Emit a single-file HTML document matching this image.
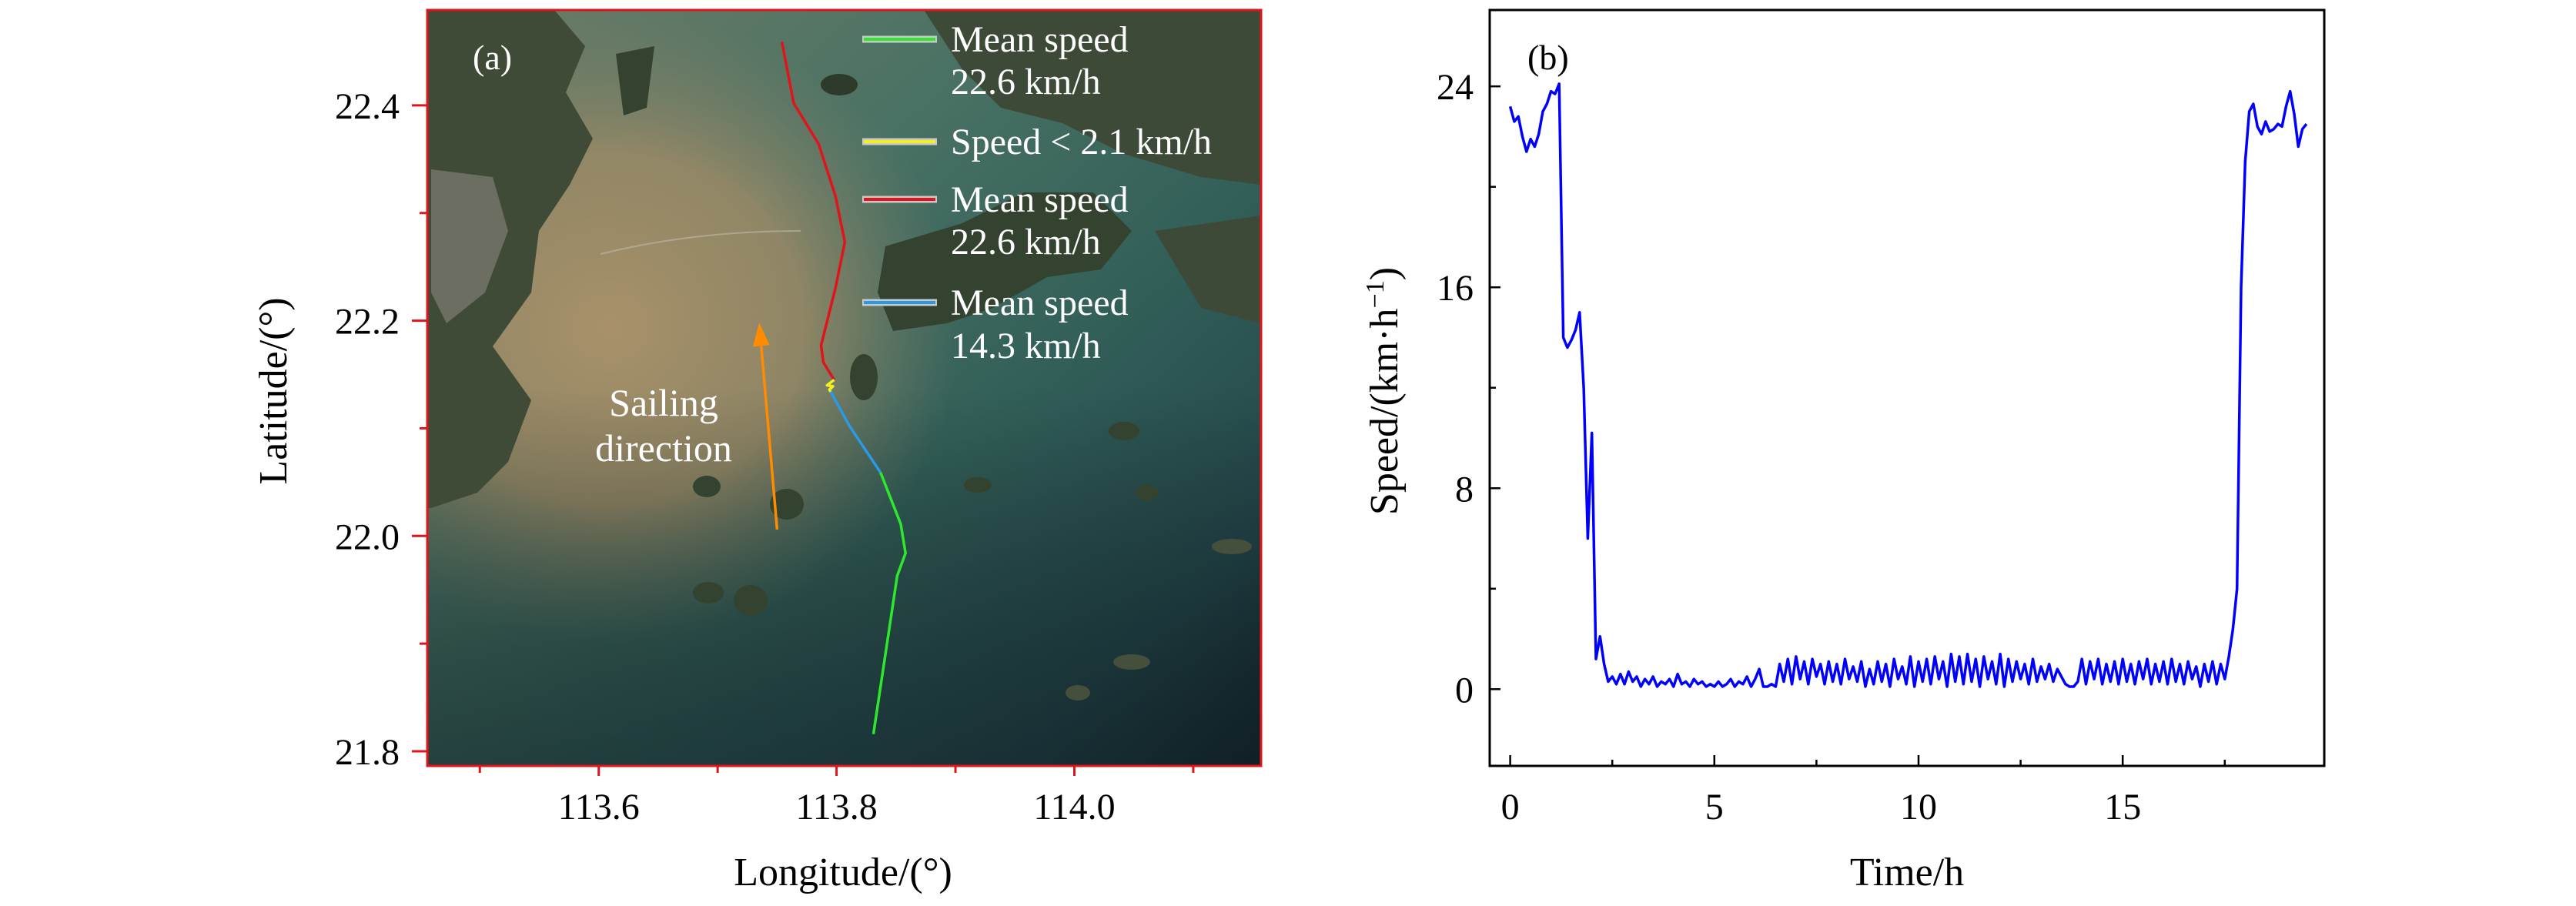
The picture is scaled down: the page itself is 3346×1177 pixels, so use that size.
<!DOCTYPE html>
<html><head><meta charset="utf-8"><style>
html,body{margin:0;padding:0;background:#fff}
svg{display:block;font-family:"Liberation Serif","DejaVu Serif",serif}
svg text{font-family:"Liberation Serif","DejaVu Serif",serif;fill:#000}
</style></head><body>
<svg id="fig" width="3346" height="1177" viewBox="0 0 3346 1177" xmlns="http://www.w3.org/2000/svg" font-family="Liberation Serif, serif">
<defs>
<clipPath id="mapclip"><rect x="555" y="13" width="1083" height="982"/></clipPath>
<linearGradient id="sea" x1="0" y1="0" x2="1" y2="1">
<stop offset="0" stop-color="#6f7c66"/><stop offset="0.35" stop-color="#4a7264"/><stop offset="0.6" stop-color="#336059"/><stop offset="0.85" stop-color="#23464a"/><stop offset="1" stop-color="#14252b"/>
</linearGradient>
<radialGradient id="mud" cx="0.22" cy="0.42" r="0.42">
<stop offset="0" stop-color="#a8916a" stop-opacity="1"/><stop offset="0.55" stop-color="#9c8a66" stop-opacity="0.85"/><stop offset="1" stop-color="#7a7e66" stop-opacity="0"/>
</radialGradient>
<linearGradient id="dark" x1="0" y1="0" x2="0" y2="1">
<stop offset="0.5" stop-color="#000" stop-opacity="0"/><stop offset="1" stop-color="#0d1a20" stop-opacity="0.5"/>
</linearGradient>
</defs>

<g id="panel-a">
<g clip-path="url(#mapclip)">
<rect x="555" y="13" width="1083" height="982" fill="url(#sea)"/>
<rect x="555" y="13" width="1083" height="982" fill="url(#mud)"/>
<rect x="555" y="13" width="1083" height="982" fill="url(#dark)"/>
<path d="M555 13 L720 13 L760 60 L735 120 L770 180 L740 240 L700 300 L690 380 L640 450 L690 520 L660 600 L620 640 L560 660 L555 660 Z" fill="#3f4b36"/>
<path d="M560 220 L640 230 L660 300 L630 380 L580 420 L560 380 Z" fill="#6b6e60"/>
<path d="M800 70 L850 60 L840 140 L810 150 Z" fill="#34422f"/>
<path d="M1200 13 L1638 13 L1638 240 L1560 230 L1460 200 L1380 160 L1300 140 L1250 90 Z" fill="#3d4a37"/>
<path d="M1150 320 L1250 290 L1330 250 L1420 250 L1470 300 L1430 350 L1360 360 L1290 400 L1230 420 L1160 430 L1140 380 Z" fill="#34432f"/>
<path d="M1500 300 L1638 280 L1638 420 L1560 400 Z" fill="#3d4a37"/>
<ellipse cx="1090" cy="110" rx="24" ry="14" fill="#2e3b2a"/>
<ellipse cx="1122" cy="490" rx="18" ry="30" fill="#34432f"/>
<ellipse cx="918" cy="632" rx="18" ry="14" fill="#34432f"/>
<ellipse cx="1022" cy="655" rx="22" ry="20" fill="#34432f"/>
<ellipse cx="920" cy="770" rx="20" ry="14" fill="#34432f"/>
<ellipse cx="975" cy="780" rx="22" ry="20" fill="#34432f"/>
<ellipse cx="1460" cy="560" rx="20" ry="12" fill="#34432f"/>
<ellipse cx="1270" cy="630" rx="18" ry="10" fill="#34432f"/>
<ellipse cx="1490" cy="640" rx="16" ry="10" fill="#34432f"/>
<ellipse cx="1600" cy="710" rx="26" ry="10" fill="#44503c"/>
<ellipse cx="1470" cy="860" rx="24" ry="10" fill="#44503c"/>
<ellipse cx="1400" cy="900" rx="16" ry="10" fill="#44503c"/>
<path d="M780 330 Q900 300 1040 300" stroke="#b8b3a0" stroke-width="2" fill="none" opacity="0.7"/>
</g>
<g id="track"></g>
<g id="arrow"></g>
<rect x="555" y="13" width="1083" height="982" fill="none" stroke="#e0141b" stroke-width="3"/>
<text x="614" y="90" font-size="46" style="fill:#fff">(a)</text>
<text x="862" y="540" font-size="50" text-anchor="middle" style="fill:#fff"><tspan x="862">Sailing</tspan><tspan x="862" dy="59">direction</tspan></text>
<g id="legend-a">
<g>
<line x1="1120" y1="51" x2="1217" y2="51" stroke="#c8c8c8" stroke-width="9"/><line x1="1122" y1="51" x2="1215" y2="51" stroke="#2ee82e" stroke-width="4"/>
<text x="1235" y="67" font-size="48" style="fill:#fff">Mean speed</text><text x="1235" y="122" font-size="48" style="fill:#fff">22.6 km/h</text></g>
<g>
<line x1="1120" y1="184" x2="1217" y2="184" stroke="#c8c8c8" stroke-width="9"/><line x1="1122" y1="184" x2="1215" y2="184" stroke="#f4f020" stroke-width="4"/>
<text x="1235" y="200" font-size="48" style="fill:#fff">Speed &lt; 2.1 km/h</text></g>
<g>
<line x1="1120" y1="259" x2="1217" y2="259" stroke="#c8c8c8" stroke-width="9"/><line x1="1122" y1="259" x2="1215" y2="259" stroke="#e0141b" stroke-width="4"/>
<text x="1235" y="275" font-size="48" style="fill:#fff">Mean speed</text><text x="1235" y="330" font-size="48" style="fill:#fff">22.6 km/h</text></g>
<g>
<line x1="1120" y1="393" x2="1217" y2="393" stroke="#c8c8c8" stroke-width="9"/><line x1="1122" y1="393" x2="1215" y2="393" stroke="#2b9ae6" stroke-width="4"/>
<text x="1235" y="409" font-size="48" style="fill:#fff">Mean speed</text><text x="1235" y="465" font-size="48" style="fill:#fff">14.3 km/h</text></g>
</g>
<g id="axes-a"></g>
<text x="0" y="0" font-size="52" text-anchor="middle" transform="translate(372,508) rotate(-90)">Latitude/(°)</text>
<text x="1095" y="1150" font-size="52" text-anchor="middle">Longitude/(°)</text>
</g>

<g id="panel-b">
<g id="series-b"></g>
<rect x="1935" y="13" width="1084" height="982" fill="none" stroke="#000" stroke-width="3"/>
<g id="axes-b"></g>
<text x="1984" y="90" font-size="46">(b)</text>
<text x="0" y="0" font-size="52" text-anchor="middle" transform="translate(1815,508) rotate(-90)">Speed/(km·h<tspan dy="-18" font-size="34">−1</tspan><tspan dy="18">)</tspan></text>
<text x="2477" y="1150" font-size="52" text-anchor="middle">Time/h</text>
</g>
</svg>
<script>
// ---- Panel (a) data ----
const redLon = [113.754,113.764,113.785,113.799,113.807,113.799,113.787,113.789,113.798];
const redLat = [22.459,22.402,22.364,22.316,22.273,22.230,22.177,22.161,22.145];
const yellowLon = [113.798,113.792,113.797,113.794,113.795];
const yellowLat = [22.145,22.140,22.139,22.136,22.134];
const blueLon = [113.795,113.811,113.837];
const blueLat = [22.134,22.102,22.059];
const greenLon = [113.837,113.854,113.858,113.851,113.831];
const greenLat = [22.059,22.011,21.984,21.963,21.816];
const arrowLon = [113.750,113.735];
const arrowLat = [22.006,22.198];
const latTicks = [21.8,22.0,22.2,22.4];
const latMinor = [21.9,22.1,22.3];
const lonTicks = [113.6,113.8,114.0];
const lonMinor = [113.5,113.7,113.9,114.1];

// ---- Panel (b) data ----
const speedTicks = [0,8,16,24];
const speedMinor = [4,12,20];
const timeTicks = [0,5,10,15];
const timeMinor = [2.5,7.5,12.5,17.5];
const speedStep = 0.1;
const speeds = [
23.2,22.6,22.8,22.0,21.4,21.9,21.6,22.1,23.0,23.3,
23.8,23.7,24.1,14.0,13.6,13.9,14.3,15.0,12.0,6.0,
10.2,1.2,2.1,1.0,0.3,0.5,0.2,0.6,0.2,0.7,
0.3,0.5,0.1,0.4,0.2,0.5,0.1,0.3,0.2,0.4,
0.1,0.6,0.2,0.3,0.1,0.4,0.2,0.3,0.1,0.2,
0.1,0.3,0.1,0.2,0.4,0.1,0.3,0.2,0.5,0.1,
0.4,0.8,0.1,0.1,0.2,0.1,1.0,0.3,1.2,0.2,
1.3,0.4,1.1,0.2,1.2,0.5,1.0,0.2,1.1,0.3,
1.0,0.2,1.2,0.4,0.9,0.3,1.1,0.1,0.8,0.2,
1.1,0.3,1.0,0.1,1.2,0.4,0.9,0.2,1.3,0.1,
1.1,0.3,1.2,0.2,1.3,0.4,1.1,0.1,1.4,0.3,
1.3,0.2,1.4,0.3,1.2,0.1,1.3,0.4,1.1,0.2,
1.4,0.1,1.2,0.3,1.1,0.4,1.0,0.2,1.2,0.3,
0.9,0.4,1.0,0.3,0.8,0.5,0.2,0.1,0.1,0.3,
1.2,0.2,1.1,0.4,1.2,0.2,1.0,0.3,1.1,0.2,
1.2,0.3,1.0,0.2,1.1,0.4,1.2,0.2,1.0,0.3,
1.1,0.2,1.2,0.3,1.0,0.2,1.1,0.4,0.9,0.1,
1.0,0.3,1.1,0.2,1.0,0.4,1.3,2.4,4.0,16.0,
21.0,23.0,23.3,22.4,22.1,22.6,22.2,22.3,22.5,22.4,
23.2,23.8,22.9,21.6,22.3,22.5
];
const hours = speeds.map((_, i) => i * speedStep);

const NS = 'http://www.w3.org/2000/svg';
function mk(tag, attrs, parent) {
  const e = document.createElementNS(NS, tag);
  for (const k in attrs) e.setAttribute(k, attrs[k]);
  parent.appendChild(e);
  return e;
}
const lonX = lon => 777.7 + (lon - 113.6) * 1544.5;
const latY = lat => 136.9 - (lat - 22.4) * 1398.5;
const tX = t => 1961.6 + t * 53.04;
const vY = v => 895.3 - v * 32.63;

const track = document.getElementById('track');
function drawTrack(lons, lats, color, name) {
  const d = lons.map((l, i) => (i ? 'L' : 'M') + lonX(l).toFixed(1) + ' ' + latY(lats[i]).toFixed(1)).join(' ');
  const p = mk('path', {d: d, stroke: color, 'stroke-width': 3.5, fill: 'none', 'stroke-linejoin': 'round'}, track);
  
  
}
drawTrack(redLon, redLat, '#e0141b', 'track-red-segment');
drawTrack(blueLon, blueLat, '#2b9ae6', 'track-blue-segment');
drawTrack(greenLon, greenLat, '#2ee82e', 'track-green-segment');
drawTrack(yellowLon, yellowLat, '#f4f020', 'track-yellow-segment');

const arrowG = document.getElementById('arrow');
const ax1 = lonX(arrowLon[0]), ay1 = latY(arrowLat[0]), ax2 = lonX(arrowLon[1]), ay2 = latY(arrowLat[1]);
const ang = Math.atan2(ay2 - ay1, ax2 - ax1);
const hl = 30, hw = 11;
const bx = ax2 - hl * Math.cos(ang), by = ay2 - hl * Math.sin(ang);
const shaft = mk('line', {x1: ax1, y1: ay1, x2: bx, y2: by, stroke: '#ff8c00', 'stroke-width': 3.5}, arrowG);


const head = mk('polygon', {points: `${ax2},${ay2} ${bx + hw*Math.sin(ang)},${by - hw*Math.cos(ang)} ${bx - hw*Math.sin(ang)},${by + hw*Math.cos(ang)}`, fill: '#ff8c00'}, arrowG);



const axA = document.getElementById('axes-a');
latTicks.forEach(v => {
  const y = latY(v);
  const t = mk('line', {x1: 535, y1: y, x2: 555, y2: y, stroke: '#e0141b', 'stroke-width': 3}, axA);
  
  
  const l = mk('text', {x: 519, y: y + 17, 'font-size': 48, 'text-anchor': 'end'}, axA);
  l.textContent = v.toFixed(1);
  
  
});
latMinor.forEach(v => {
  const y = latY(v);
  const t = mk('line', {x1: 545, y1: y, x2: 555, y2: y, stroke: '#e0141b', 'stroke-width': 3}, axA);
  
  
});
lonTicks.forEach(v => {
  const x = lonX(v);
  const t = mk('line', {x1: x, y1: 995, x2: x, y2: 1008, stroke: '#e0141b', 'stroke-width': 3}, axA);
  
  
  const l = mk('text', {x: x, y: 1064, 'font-size': 48, 'text-anchor': 'middle'}, axA);
  l.textContent = v.toFixed(1);
  
  
});
lonMinor.forEach(v => {
  const x = lonX(v);
  const t = mk('line', {x1: x, y1: 995, x2: x, y2: 1004, stroke: '#e0141b', 'stroke-width': 3}, axA);
  
  
});

const ser = document.getElementById('series-b');
const dB = speeds.map((v, i) => (i ? 'L' : 'M') + tX(hours[i]).toFixed(1) + ' ' + vY(v).toFixed(1)).join(' ');
const line = mk('path', {d: dB, stroke: '#0000ff', 'stroke-width': 3.5, fill: 'none', 'stroke-linejoin': 'round'}, ser);



const axB = document.getElementById('axes-b');
speedTicks.forEach(v => {
  const y = vY(v);
  const t = mk('line', {x1: 1935, y1: y, x2: 1949, y2: y, stroke: '#000', 'stroke-width': 2.5}, axB);
  
  
  const l = mk('text', {x: 1914, y: y + 17, 'font-size': 48, 'text-anchor': 'end'}, axB);
  l.textContent = String(v);
  
  
});
speedMinor.forEach(v => {
  const y = vY(v);
  const t = mk('line', {x1: 1935, y1: y, x2: 1943, y2: y, stroke: '#000', 'stroke-width': 2.5}, axB);
  
  
});
timeTicks.forEach(v => {
  const x = tX(v);
  const t = mk('line', {x1: x, y1: 995, x2: x, y2: 981, stroke: '#000', 'stroke-width': 2.5}, axB);
  
  
  const l = mk('text', {x: x, y: 1064, 'font-size': 48, 'text-anchor': 'middle'}, axB);
  l.textContent = String(v);
  
  
});
timeMinor.forEach(v => {
  const x = tX(v);
  const t = mk('line', {x1: x, y1: 995, x2: x, y2: 987, stroke: '#000', 'stroke-width': 2.5}, axB);
  
  
});
</script>
</body></html>
